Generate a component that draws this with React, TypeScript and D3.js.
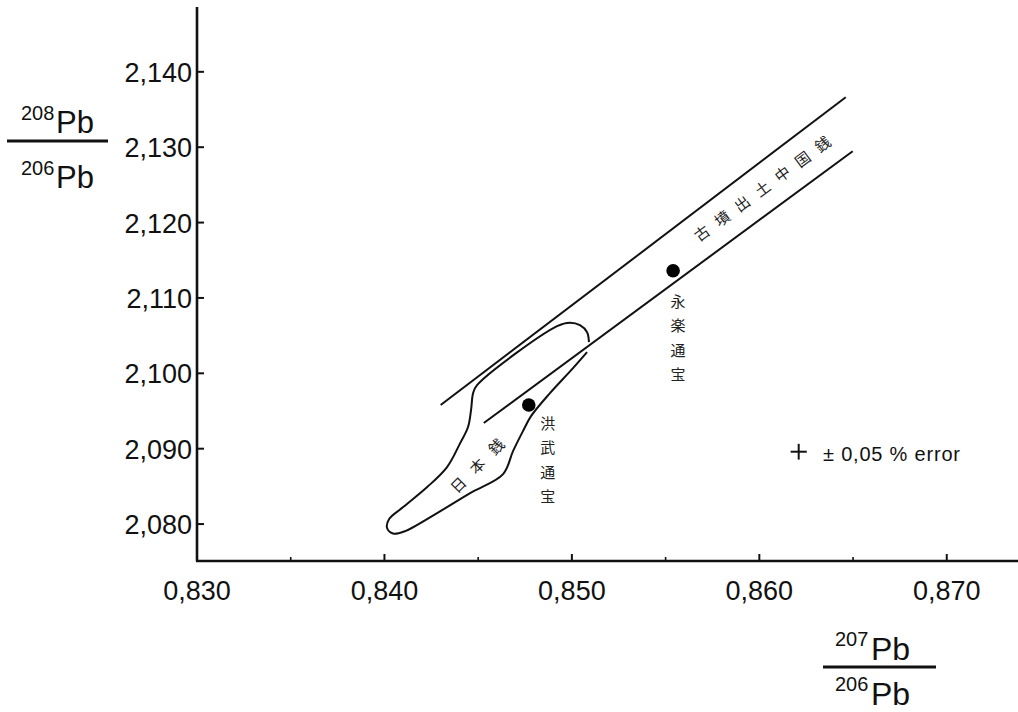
import React from "react";
import * as d3 from "d3";

const width = 1018;
const height = 712;

// axis ticks
const xTicks = [0.83, 0.84, 0.85, 0.86, 0.87];
const xMinorTicks = [0.835, 0.845, 0.855, 0.865];
const yTicks = [2.08, 2.09, 2.1, 2.11, 2.12, 2.13, 2.14];

// coins measured
const coinNames = ["洪武通宝", "永楽通宝"];
const coinX = [0.8477, 0.8554];
const coinY = [2.0958, 2.1136];

// band of Chinese coins from kofun
const bandUpper = [[0.843, 2.0958], [0.86461, 2.13663]];
const bandLower = [[0.8453, 2.0934], [0.86498, 2.12947]];
const bandLabel = "古墳出土中国銭";
const bandLabelAt = [0.86035, 2.12496];

// outline of japanese coins field
const japanOutline = [
  [0.85091, 2.10414], [0.85081, 2.10546], [0.85043, 2.10639], [0.8499, 2.10672],
  [0.84921, 2.10626], [0.84494, 2.09844], [0.84473, 2.09737], [0.84462, 2.09512],
  [0.84446, 2.09287], [0.84404, 2.09074], [0.84334, 2.08756], [0.84228, 2.08491],
  [0.841, 2.08225], [0.84025, 2.08066], [0.84014, 2.07947], [0.84046, 2.07874],
  [0.84105, 2.07901], [0.84281, 2.08146], [0.84457, 2.08411], [0.84633, 2.08663],
  [0.84686, 2.08968], [0.84739, 2.09233], [0.84782, 2.09432], [0.84883, 2.09737],
  [0.85006, 2.10069], [0.85081, 2.10281],
];
const japanLabel = "日本銭";
const japanLabelAt = [0.84515, 2.08836];

// error legend
const errorPct = 0.05;
const errorAt = [0.8621, 2.0896];

const latin = "'Liberation Sans', Arial, sans-serif";
const cjk = "'Noto Sans CJK JP', 'Noto Sans CJK SC', sans-serif";

const fmt = (v) => d3.format(".3f")(v).replace(".", ",");

const Fraction = ({ x0, lineX1, lineX2, lineY, topBase, botBase, num, den, size, supSize, supW }) => (
  <g fontFamily={latin} fill="#111">
    <text x={x0} y={topBase - size * 0.43} fontSize={supSize}>{num}</text>
    <text x={x0 + supW} y={topBase} fontSize={size}>Pb</text>
    <line x1={lineX1} x2={lineX2} y1={lineY} y2={lineY} stroke="#111" strokeWidth={2.8} />
    <text x={x0} y={botBase - size * 0.43} fontSize={supSize}>{den}</text>
    <text x={x0 + supW} y={botBase} fontSize={size}>Pb</text>
  </g>
);

const App = () => {
  const x = d3.scaleLinear().domain([0.83, 0.8738]).range([197, 1018]);
  const y = d3.scaleLinear().domain([2.0751, 2.1486]).range([561, 7]);

  const outline = d3
    .line()
    .x((d) => x(d[0]))
    .y((d) => y(d[1]))
    .curve(d3.curveCatmullRom.alpha(0.5));

  const bandAngle =
    (Math.atan2(y(bandLower[1][1]) - y(bandLower[0][1]), x(bandLower[1][0]) - x(bandLower[0][0])) * 180) / Math.PI;

  const ex = x(errorAt[0]);
  const ey = y(errorAt[1]);
  const hw = x(errorAt[0] * (1 + errorPct / 100)) - ex;
  const hh = ey - y(errorAt[1] * (1 + errorPct / 100));

  return (
    <svg width={width} height={height} style={{ position: "absolute", left: 0, top: 0, background: "#fff" }}>
      {/* axes */}
      <line x1={x(0.83)} x2={x(0.83)} y1={y.range()[1]} y2={y.range()[0]} stroke="#111" strokeWidth={2.6} />
      <line x1={x(0.83) - 1} x2={width} y1={y.range()[0]} y2={y.range()[0]} stroke="#111" strokeWidth={2.6} />
      {yTicks.map((t) => (
        <g key={t}>
          <line x1={x(0.83)} x2={x(0.83) + 7} y1={y(t)} y2={y(t)} stroke="#111" strokeWidth={2} />
          <text x={x(0.83) - 5} y={y(t) + 10} textAnchor="end" fontSize={27} fontFamily={latin} fill="#111">
            {fmt(t)}
          </text>
        </g>
      ))}
      {xTicks.map((t) => (
        <g key={t}>
          <line x1={x(t)} x2={x(t)} y1={y.range()[0]} y2={y.range()[0] - 7} stroke="#111" strokeWidth={2} />
          <text x={x(t)} y={y.range()[0] + 39} textAnchor="middle" fontSize={27} fontFamily={latin} fill="#111">
            {fmt(t)}
          </text>
        </g>
      ))}
      {xMinorTicks.map((t) => (
        <line key={t} x1={x(t)} x2={x(t)} y1={y.range()[0]} y2={y.range()[0] - 4} stroke="#111" strokeWidth={1.6} />
      ))}

      {/* axis titles */}
      <Fraction x0={21} lineX1={7} lineX2={108} lineY={141} topBase={133} botBase={188}
        num="208" den="206" size={31} supSize={20} supW={35} />
      <Fraction x0={835} lineX1={823} lineX2={936} lineY={667} topBase={660} botBase={705}
        num="207" den="206" size={32} supSize={20} supW={36} />

      {/* band */}
      {[bandUpper, bandLower].map((b, i) => (
        <line key={i} x1={x(b[0][0])} y1={y(b[0][1])} x2={x(b[1][0])} y2={y(b[1][1])} stroke="#111" strokeWidth={2} />
      ))}
      <text
        transform={`translate(${x(bandLabelAt[0])},${y(bandLabelAt[1])}) rotate(${bandAngle})`}
        textAnchor="middle"
        dominantBaseline="central"
        fontSize={15}
        letterSpacing={10}
        fontFamily={cjk}
        fill="#222"
      >
        {bandLabel}
      </text>

      {/* japanese coins field */}
      <path d={outline(japanOutline)} fill="none" stroke="#111" strokeWidth={2} />
      <text
        transform={`translate(${x(japanLabelAt[0])},${y(japanLabelAt[1])}) rotate(-45)`}
        textAnchor="middle"
        dominantBaseline="central"
        fontSize={15}
        letterSpacing={12}
        fontFamily={cjk}
        fill="#222"
      >
        {japanLabel}
      </text>

      {/* coins */}
      {coinNames.map((n, i) => {
        const cx = x(coinX[i]);
        const cy = y(coinY[i]);
        const off = i === 0 ? [19, 24] : [5, 36];
        return (
          <g key={n}>
            <circle cx={cx} cy={cy} r={6.8} fill="#000" />
            <text x={cx + off[0]} y={cy + off[1]} textAnchor="middle" fontSize={15} fontFamily={cjk} fill="#222">
              {n.split("").map((c, j) => (
                <tspan key={j} x={cx + off[0]} dy={j === 0 ? 0 : 24.5}>
                  {c}
                </tspan>
              ))}
            </text>
          </g>
        );
      })}

      {/* error legend */}
      <line x1={ex - hw} x2={ex + hw} y1={ey} y2={ey} stroke="#111" strokeWidth={2} />
      <line x1={ex} x2={ex} y1={ey - hh} y2={ey + hh} stroke="#111" strokeWidth={2} />
      <text x={823} y={ey + 9} fontSize={20} letterSpacing={0.8} fontFamily={latin} fill="#111">
        ± 0,05 % error
      </text>
    </svg>
  );
};

export default App;
